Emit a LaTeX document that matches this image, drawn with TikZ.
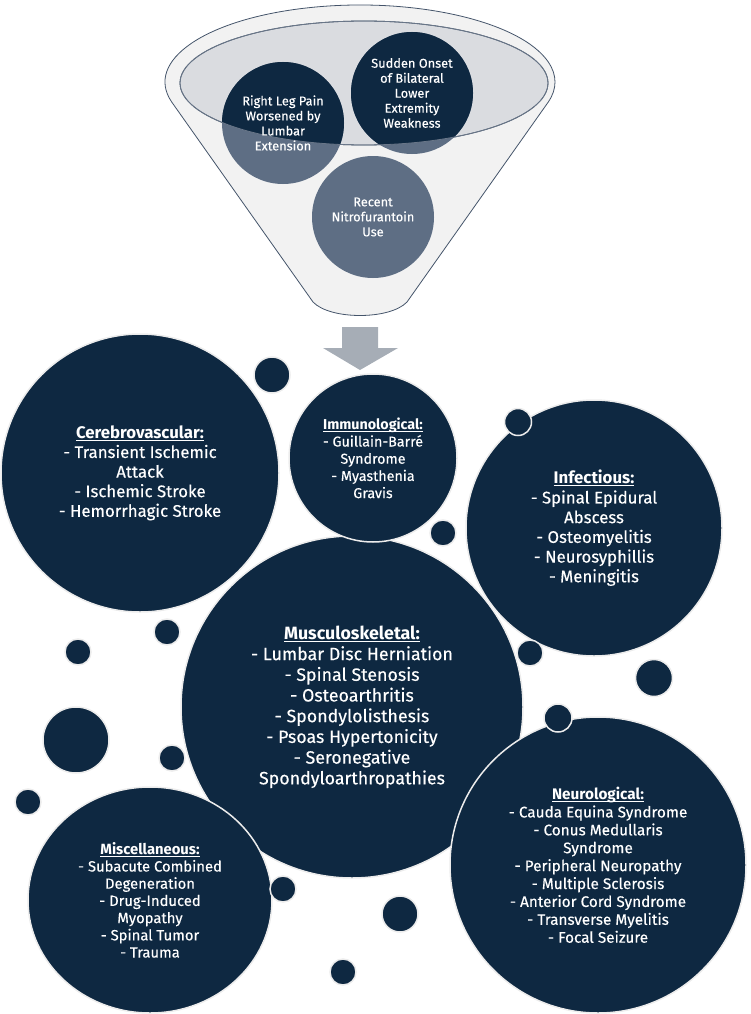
\documentclass[tikz,border=0pt]{standalone}
\usepackage{fontspec}
\setmainfont{Fira Sans}[UprightFeatures={FakeBold=0.3}]
\usetikzlibrary{shapes.geometric}
\definecolor{navy}{HTML}{0E2841}
\definecolor{mist}{HTML}{5E6E84}
\definecolor{funnelfill}{HTML}{F2F2F2}
\definecolor{funnelline}{HTML}{44546A}
\definecolor{rim}{HTML}{DADCE0}
\definecolor{arrowgray}{HTML}{A6ADB6}
\newcommand{\head}[1]{\underline{\raisebox{0pt}[\height][0.5pt]{\textbf{#1}}}}
\tikzset{bubble/.style={circle,fill=navy,draw=gray!15,line width=1.5pt,text=white,align=center,inner sep=0pt},
dot/.style={circle,fill=navy,draw=gray!15,line width=1.5pt,inner sep=0pt},
symptom/.style={circle,minimum size=122pt,text=white,align=center,font=\fontsize{12.8}{15}\selectfont,inner sep=0pt}}

\begin{document}
\begin{tikzpicture}[x=1pt,y=-1pt]
\useasboundingbox (0,0) rectangle (750,1014);
% funnel
\coordinate (cleg) at (283,123);
\coordinate (conset) at (412,93);
\coordinate (cnitro) at (373,217);
\draw[funnelline,fill=funnelfill,line width=0.8pt] (360,82) ++(165:195 and 77) arc[start angle=165,end angle=375,x radius=195,y radius=77] -- (407,302) .. controls (390,320) and (330,320) .. (313,302) -- cycle;
\draw[funnelline,fill=rim,line width=0.8pt] (364,83) ellipse[x radius=184,y radius=62];
\foreach \c in {cleg,conset,cnitro} \fill[mist] (\c) circle[radius=61];
\begin{scope}
\clip (364,83) ellipse[x radius=184,y radius=62];
\foreach \c in {cleg,conset,cnitro} \fill[navy] (\c) circle[radius=61];
\end{scope}
\draw[funnelline!80,line width=0.8pt] (364,83) ellipse[x radius=184,y radius=62];
\node[symptom] (leg) at (cleg) {Right Leg Pain\\Worsened by\\Lumbar\\Extension};
\node[symptom] (onset) at (conset) {Sudden Onset\\of Bilateral\\Lower\\Extremity\\Weakness};
\node[symptom] (nitro) at (cnitro) {Recent\\Nitrofurantoin\\Use};
% arrow
\fill[arrowgray] (342,327) -- (378,327) -- (378,348) -- (398,348) -- (360,370) -- (323,348) -- (342,348) -- cycle;
% differentials
\node[bubble,minimum size=342pt,font=\fontsize{17.8}{20.7}\selectfont] (musculo) at (352,707) {\head{Musculoskeletal:}\\- Lumbar Disc Herniation\\- Spinal Stenosis\\- Osteoarthritis\\- Spondylolisthesis\\- Psoas Hypertonicity\\- Seronegative\\Spondyloarthropathies};
\node[bubble,minimum size=278pt,font=\fontsize{16.8}{19.6}\selectfont] (cerebro) at (140,473) {\head{Cerebrovascular:}\\- Transient Ischemic\\Attack\\- Ischemic Stroke\\- Hemorrhagic Stroke};
\node[bubble,minimum size=168pt,font=\fontsize{14.3}{17.2}\selectfont] (immuno) at (373,458) {\head{Immunological:}\\- Guillain-Barré\\Syndrome\\- Myasthenia\\Gravis};
\node[bubble,minimum size=256pt,font=\fontsize{16.8}{19.7}\selectfont] (infect) at (594,528) {\head{Infectious:}\\- Spinal Epidural\\Abscess\\- Osteomyelitis\\- Neurosyphillis\\- Meningitis};
\node[bubble,ellipse,minimum width=244pt,minimum height=226pt,font=\fontsize{14.8}{17.2}\selectfont] (misc) at (150,900) {\head{Miscellaneous:}\\- Subacute Combined\\Degeneration\\- Drug-Induced\\Myopathy\\- Spinal Tumor\\- Trauma};
\node[bubble,minimum size=296pt,font=\fontsize{15.3}{17.9}\selectfont] (neuro) at (598,865) {\head{Neurological:}\\- Cauda Equina Syndrome\\- Conus Medullaris\\Syndrome\\- Peripheral Neuropathy\\- Multiple Sclerosis\\- Anterior Cord Syndrome\\- Transverse Myelitis\\- Focal Seizure};
% small bubbles
\foreach \x/\y/\r [count=\i] in {272/375/18,518/422/13.5,443/533/13,167/632/13,78/652/13,530/653/13,654/678/18.5,76/740/33,558/718/14,172/758/13,28/802/13,283/889/13,400/914/18,343/972/13}
  \node[dot,minimum size=2*\r pt] (dot\i) at (\x,\y) {};
\end{tikzpicture}
\end{document}
